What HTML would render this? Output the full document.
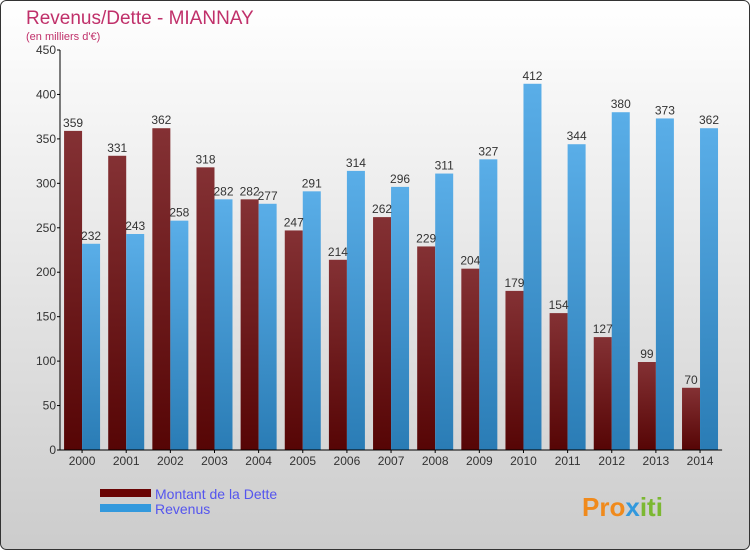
<!DOCTYPE html>
<html><head><meta charset="utf-8"><style>
html,body{margin:0;padding:0}
body{width:750px;height:550px;overflow:hidden;font-family:"Liberation Sans",sans-serif}
</style></head><body>
<svg id="chart" width="750" height="550" xmlns="http://www.w3.org/2000/svg">
<defs>
<linearGradient id="bg" x1="0" y1="0" x2="0" y2="1"><stop offset="0" stop-color="#ffffff"/><stop offset="1" stop-color="#cccccc"/></linearGradient>
<linearGradient id="gd" x1="0" y1="0" x2="0" y2="1"><stop offset="0" stop-color="#843134"/><stop offset="1" stop-color="#560505"/></linearGradient>
<linearGradient id="gr" x1="0" y1="0" x2="0" y2="1"><stop offset="0" stop-color="#5aaee8"/><stop offset="1" stop-color="#2a7cb5"/></linearGradient>
</defs>
<rect x="0.5" y="0.5" width="749" height="549" rx="6" fill="url(#bg)" stroke="#333"/>
<text x="26" y="24" font-size="19" fill="#c0306a">Revenus/Dette - MIANNAY</text>
<text x="26" y="40" font-size="11" fill="#c0306a">(en milliers d'€)</text>
<g id="plot"></g>
<g>
<rect x="100" y="489" width="51" height="8" fill="#6a0505"/>
<text x="155" y="499" font-size="14" fill="#5555ee">Montant de la Dette</text>
<rect x="100" y="504" width="51" height="8" fill="#3399dd"/>
<text x="155" y="514" font-size="14" fill="#5555ee">Revenus</text>
</g>
<text x="582" y="516" font-size="26" font-weight="bold" fill="#f08a1c">Pro<tspan fill="#3399dd">x</tspan><tspan fill="#7cb832">iti</tspan></text>
</svg>
<script>
const years=["2000","2001","2002","2003","2004","2005","2006","2007","2008","2009","2010","2011","2012","2013","2014"];
const dette=[359,331,362,318,282,247,214,262,229,204,179,154,127,99,70];
const revenus=[232,243,258,282,277,291,314,296,311,327,412,344,380,373,362];
const yTicks=[0,50,100,150,200,250,300,350,400,450];
const NS="http://www.w3.org/2000/svg";
const g=document.getElementById('plot');
const x0=60,step=44.14,yb=450,ymax=450,ph=400;
const y=v=>yb-v/ymax*ph;
const cx=i=>x0+step*(i+0.5);
function mk(t,a){const e=document.createElementNS(NS,t);for(const k in a)e.setAttribute(k,a[k]);g.appendChild(e);return e;}
yTicks.forEach(v=>{
const l=mk('line',{x1:x0-3,x2:x0,y1:y(v),y2:y(v),stroke:'#000'});


const t=mk('text',{x:x0-4,y:y(v)+4,'text-anchor':'end','font-size':12,fill:'#333'});


t.textContent=v;
});
years.forEach((yr,i)=>{
const c=cx(i);
const bd=mk('rect',{x:c-18,y:y(dette[i]),width:18,height:yb-y(dette[i]),fill:'url(#gd)'});


const br=mk('rect',{x:c,y:y(revenus[i]),width:18,height:yb-y(revenus[i]),fill:'url(#gr)'});


const td=mk('text',{x:c-9,y:y(dette[i])-4,'text-anchor':'middle','font-size':12,fill:'#333'});


td.textContent=dette[i];
const tr=mk('text',{x:c+9,y:y(revenus[i])-4,'text-anchor':'middle','font-size':12,fill:'#333'});


tr.textContent=revenus[i];
const tk=mk('line',{x1:c,x2:c,y1:yb,y2:yb+3,stroke:'#000'});


const xl=mk('text',{x:c,y:yb+15,'text-anchor':'middle','font-size':12,fill:'#333'});


xl.textContent=yr;
});
const ya=mk('line',{x1:x0,x2:x0,y1:y(450),y2:yb,stroke:'#000'});


const xa=mk('line',{x1:x0,x2:x0+step*15,y1:yb,y2:yb,stroke:'#000'});


</script>
</body></html>
